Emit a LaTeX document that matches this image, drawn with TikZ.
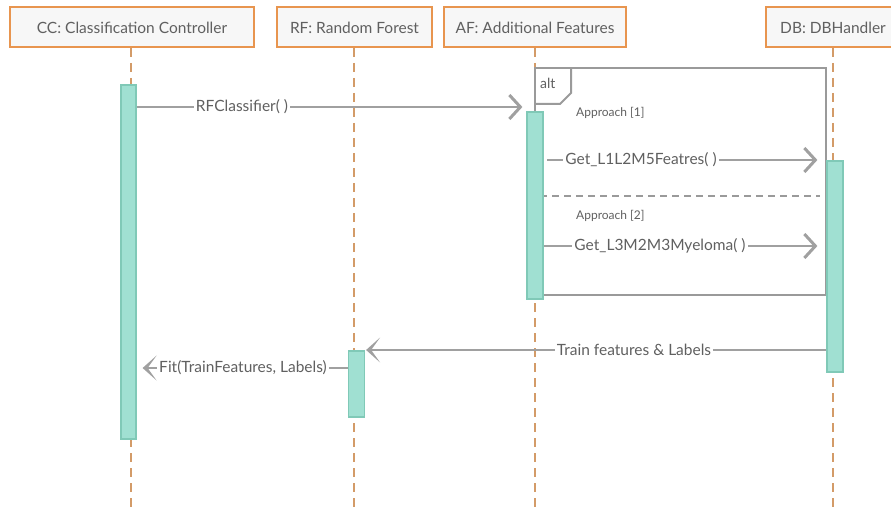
\documentclass[tikz,border=0pt]{standalone}
\usepackage{fontspec}
\setmainfont{Lato}
\usetikzlibrary{arrows.meta,calc}
\definecolor{boxfill}{HTML}{F7F7F7}
\definecolor{boxline}{HTML}{E8954F}
\definecolor{lifeline}{HTML}{D39B68}
\definecolor{barfill}{HTML}{A0E0D2}
\definecolor{barline}{HTML}{80C9B7}
\definecolor{msg}{HTML}{A0A0A0}
\definecolor{frameline}{HTML}{9A9A9A}
\definecolor{txt}{HTML}{606060}
\begin{document}
\begin{tikzpicture}[x=1pt,y=-1pt,
  header/.style={draw=boxline, fill=boxfill, line width=2pt, minimum height=40pt,
    text=txt, font=\fontsize{15.5}{18}\selectfont, inner sep=0pt},
  life/.style={draw=lifeline, line width=2pt, dash pattern=on 9pt off 6pt},
  actbar/.style={draw=barline, fill=barfill, line width=1.2pt, inner sep=0pt},
  msgline/.style={draw=msg, line width=2.2pt},
  openhead/.style={-{Straight Barb[length=11pt,width=24pt,line width=3pt]}},
  solidhead/.style={-{Stealth[length=14pt,width=25pt,inset=9pt]}},
  lbl/.style={fill=white, text=txt, font=\fontsize{15.5}{18}\selectfont, inner sep=2pt},
  guard/.style={text=txt, font=\fontsize{12}{14}\selectfont, inner sep=0pt, anchor=west}
]
\useasboundingbox (0,0) rectangle (891,508);

% participant heads
\node[header, minimum width=244pt] (hCC) at (132,27.5) {CC: Classification Controller};
\node[header, minimum width=155pt] (hRF) at (354.5,27.5) {RF: Random Forest};
\node[header, minimum width=182pt] (hAF) at (535,27.5) {AF: Additional Features};
\node[header, minimum width=134pt] (hDB) at (833,27.5) {DB: DBHandler};

% lifelines
\coordinate (eCC) at (131,510);
\coordinate (eRF) at (354,510);
\coordinate (eAF) at (535,510);
\coordinate (eDB) at (833,510);
\draw[life] (131,48) -- (eCC);
\draw[life] (354,48) -- (eRF);
\draw[life] (535,48) -- (eAF);
\draw[life] (833,48) -- (eDB);

% alt combined fragment
\draw[draw=frameline, line width=2pt] (535,68) rectangle (826,295);
\draw[draw=frameline, line width=2pt] (535,104) -- (560,104) -- (571,93) -- (571,68);
\node[text=txt, font=\fontsize{14}{16}\selectfont, anchor=west, inner sep=0pt] (altlbl) at (540,83) {alt};
\node[guard] (g1) at (576,113) {Approach [1]};
\node[guard] (g2) at (576,216) {Approach [2]};
\draw[draw=frameline, line width=2pt, dash pattern=on 7pt off 5pt] (540,196) -- (820,196);

% activation bars
\node[actbar, minimum width=15pt, minimum height=354pt] (bCC) at (128.5,262) {};
\node[actbar, minimum width=16pt, minimum height=187pt] (bAF) at (535,205.5) {};
\node[actbar, minimum width=16pt, minimum height=211pt] (bDB) at (835,266.5) {};
\node[actbar, minimum width=16pt, minimum height=66pt] (bRF) at (356.5,384) {};

% messages
\coordinate (m1a) at (bCC.east |- 0,107);
\coordinate (m1b) at ($(bAF.west |- 0,107)+(-4,0)$);
\draw[msgline, openhead] (m1a) -- (m1b);
\node[lbl] (l1) at (242,107) {RFClassifier( )};

\coordinate (m2a) at (547,160);
\coordinate (m2b) at ($(bDB.west |- 0,160)+(-9,0)$);
\draw[msgline, openhead] (m2a) -- (m2b);
\node[lbl] (l2) at (641,160) {Get\_L1L2M5Featres( )};

\coordinate (m3a) at (bAF.east |- 0,246);
\coordinate (m3b) at ($(bDB.west |- 0,246)+(-9,0)$);
\draw[msgline, openhead] (m3a) -- (m3b);
\node[lbl] (l3) at (660,246) {Get\_L3M2M3Myeloma( )};

\coordinate (m4a) at (bDB.west |- 0,350);
\coordinate (m4b) at ($(bRF.east |- 0,350)+(1,0)$);
\draw[msgline, solidhead] (m4a) -- (m4b);
\node[lbl] (l4) at (634,350) {Train features \& Labels};

\coordinate (m5a) at (bRF.west |- 0,368);
\coordinate (m5b) at ($(bCC.east |- 0,368)+(6,0)$);
\draw[msgline, solidhead] (m5a) -- (m5b);
\node[lbl] (l5) at (243,368) {Fit(TrainFeatures, Labels)};
\end{tikzpicture}
\end{document}
